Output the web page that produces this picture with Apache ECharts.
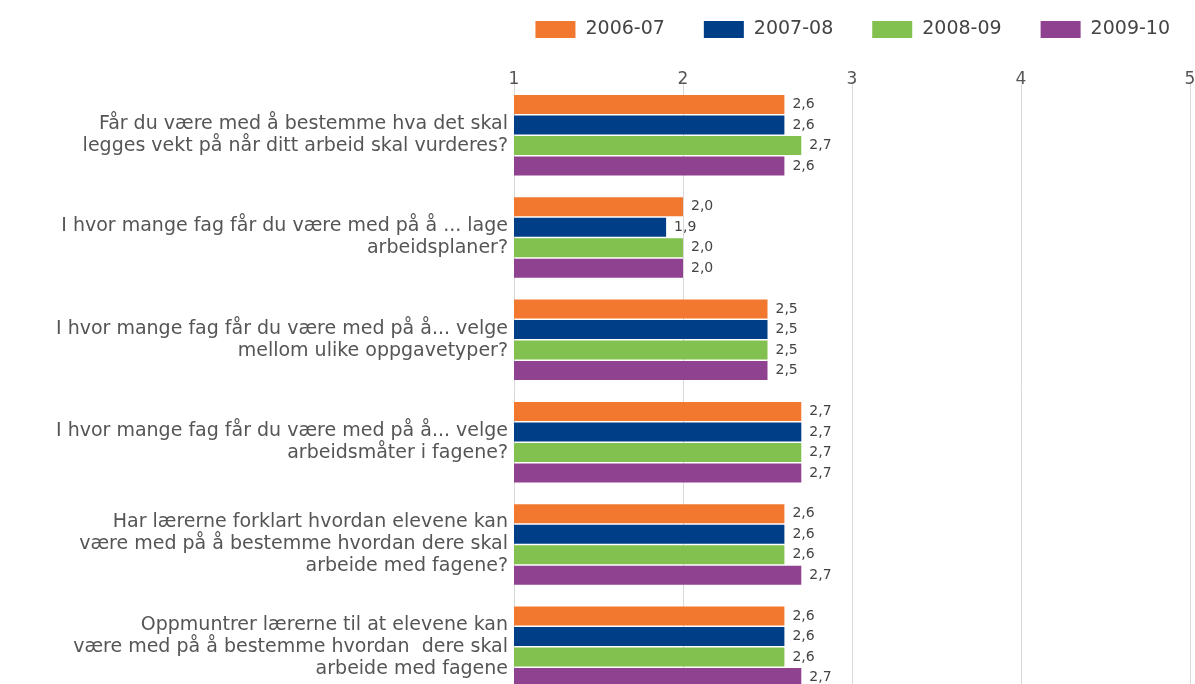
<!DOCTYPE html>
<html>
<head>
<meta charset="utf-8">
<script src="https://cdn.jsdelivr.net/npm/echarts@6/dist/echarts.min.js"></script>
<style>
  html, body { margin: 0; padding: 0; background: #fff; }
  #main { width: 1195px; height: 684px; }
</style>
</head>
<body>
<div id="main"></div>
<script>
// spørsmål (kategorier), øverst først
const questions = [
  'Får du være med å bestemme hva det skal\nlegges vekt på når ditt arbeid skal vurderes?',
  'I hvor mange fag får du være med på å ... lage\narbeidsplaner?',
  'I hvor mange fag får du være med på å... velge\nmellom ulike oppgavetyper?',
  'I hvor mange fag får du være med på å... velge\narbeidsmåter i fagene?',
  'Har lærerne forklart hvordan elevene kan\nvære med på å bestemme hvordan dere skal\narbeide med fagene?',
  'Oppmuntrer lærerne til at elevene kan\nvære med på å bestemme hvordan  dere skal\narbeide med fagene'
];

const years = ['2006-07', '2007-08', '2008-09', '2009-10'];

const v2006 = [2.6, 2.0, 2.5, 2.7, 2.6, 2.6];
const v2007 = [2.6, 1.9, 2.5, 2.7, 2.6, 2.6];
const v2008 = [2.7, 2.0, 2.5, 2.7, 2.6, 2.6];
const v2009 = [2.6, 2.0, 2.5, 2.7, 2.7, 2.7];

const axisTicks = [1, 2, 3, 4, 5];

const colors = ['#f3782f', '#003f87', '#82c14f', '#8f4290'];
const FONT = '"DejaVu Sans", Verdana, sans-serif';

const seriesData = [v2006, v2007, v2008, v2009];

const chart = echarts.init(document.getElementById('main'));

chart.setOption({
  animation: false,
  backgroundColor: '#ffffff',
  textStyle: { fontFamily: FONT },
  legend: {
    top: 15,
    right: 20,
    itemWidth: 40,
    itemHeight: 17,
    itemGap: 39,
    icon: 'rect',
    textStyle: { fontFamily: FONT, fontSize: 19, color: '#444', padding: [0, 0, 0, 5] },
    data: years
  },
  // grafen er kuttet nederst i originalen, så gridet går under kanten
  grid: { left: 514, top: 84, width: 676, height: 614, outerBoundsMode: 'none' },
  xAxis: {
    type: 'value',
    position: 'top',
    min: axisTicks[0],
    max: axisTicks[axisTicks.length - 1],
    interval: 1,
    axisLine: { show: false },
    axisTick: { show: false },
    axisLabel: { fontFamily: FONT, fontSize: 17, color: '#555', margin: -4 },
    splitLine: { show: true, lineStyle: { color: '#d9d9d9', width: 1 } }
  },
  yAxis: {
    type: 'category',
    inverse: true,
    data: questions,
    axisLine: { show: false },
    axisTick: { show: false },
    axisLabel: {
      fontFamily: FONT, fontSize: 19, color: '#555', margin: 6,
      lineHeight: 22, align: 'right'
    }
  },
  series: years.map((name, i) => ({
    name: name,
    type: 'bar',
    data: seriesData[i],
    barWidth: 19,
    barGap: '8%',
    itemStyle: { color: colors[i] },
    label: {
      show: true,
      position: 'right',
      distance: 8,
      fontFamily: FONT,
      fontSize: 14,
      color: '#444',
      formatter: p => p.value.toFixed(1).replace('.', ',')
    }
  }))
});
</script>
</body>
</html>
